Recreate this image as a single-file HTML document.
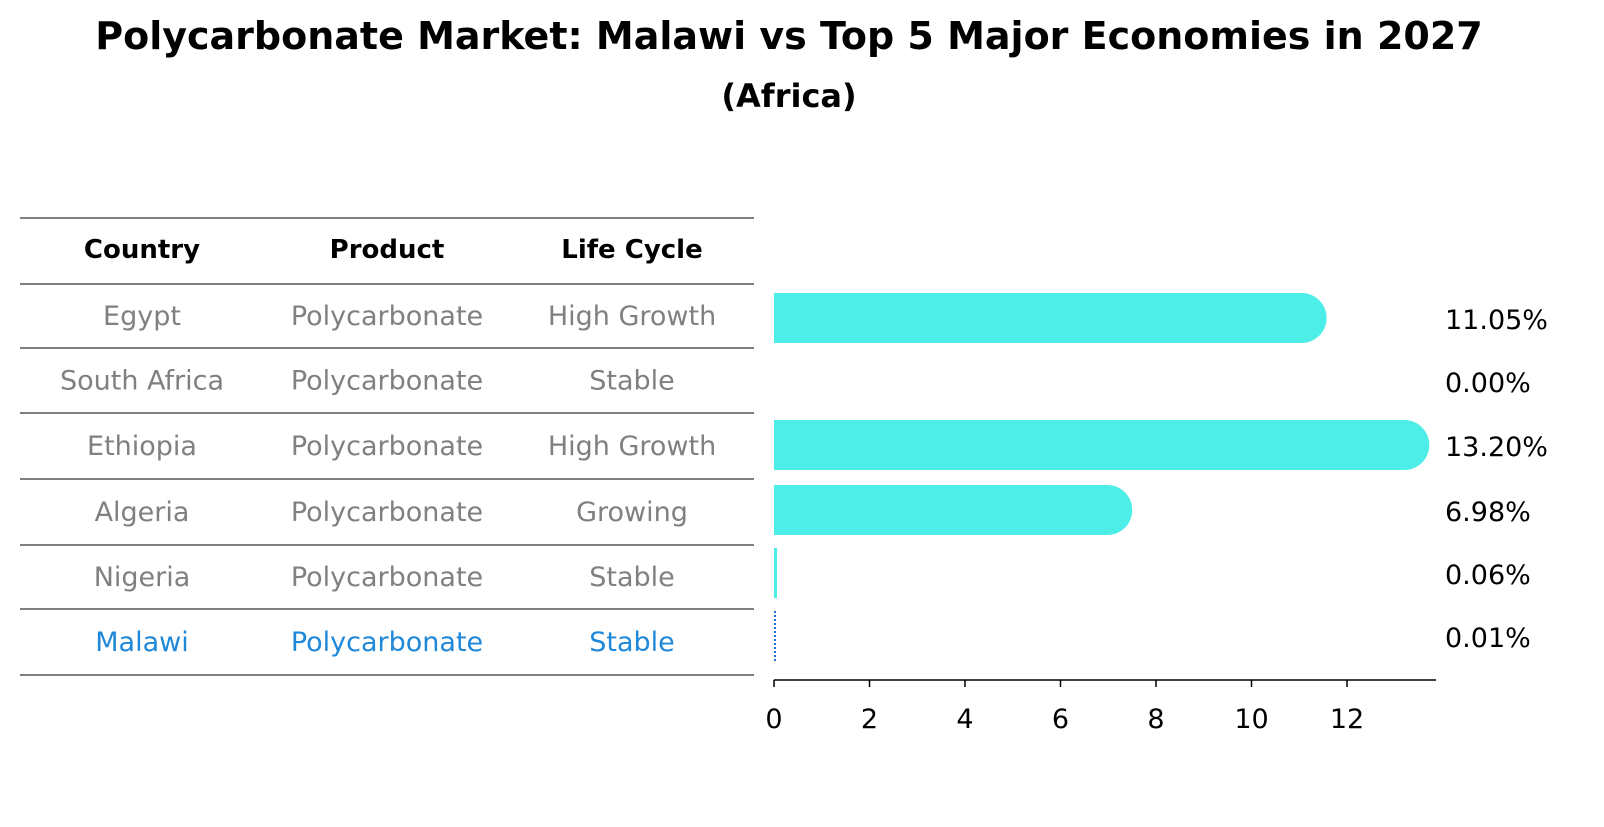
<!DOCTYPE html>
<html><head><meta charset="utf-8"><style>
body{margin:0;background:#fff;font-family:"DejaVu Sans","Liberation Sans",sans-serif}
</style></head><body>
<svg width="1604" height="823" xmlns="http://www.w3.org/2000/svg" font-family="DejaVu Sans, Liberation Sans, sans-serif">
<text x="789" y="49" text-anchor="middle" font-size="38" font-weight="bold">Polycarbonate Market: Malawi vs Top 5 Major Economies in 2027</text>
<text x="789" y="107" text-anchor="middle" font-size="32" font-weight="bold">(Africa)</text>
<g id="table"></g>
<g id="bars"></g>
</svg>
<script>
const countries=["Egypt","South Africa","Ethiopia","Algeria","Nigeria","Malawi"];
const products=["Polycarbonate","Polycarbonate","Polycarbonate","Polycarbonate","Polycarbonate","Polycarbonate"];
const lifeCycles=["High Growth","Stable","High Growth","Growing","Stable","Stable"];
const values=[11.05,0.00,13.20,6.98,0.06,0.01];
const ticks=[0,2,4,6,8,10,12];
const NS="http://www.w3.org/2000/svg";
function mk(tag,attrs,parent,txt){const e=document.createElementNS(NS,tag);for(const k in attrs)e.setAttribute(k,attrs[k]);if(txt!==undefined)e.textContent=txt;parent.appendChild(e);return e;}
const tbl=document.getElementById('table');
const lines=[218,284,348,413,479,545,609,675];
lines.forEach(y=>{const l=mk('line',{x1:20,x2:754,y1:y,y2:y,stroke:'#000','stroke-width':1},tbl);

});
const cx=[142,387,632];
["Country","Product","Life Cycle"].forEach((h,i)=>{const t=mk('text',{x:cx[i],y:258,'text-anchor':'middle','font-size':26,'font-weight':'bold'},tbl,h);

});
const rowY=i=>(lines[i+1]+lines[i+2])/2+9;
countries.forEach((c,i)=>{const col=i===countries.length-1?'#1f88d8':'#808080';
[c,products[i],lifeCycles[i]].forEach((v,j)=>{const t=mk('text',{x:cx[j],y:rowY(i),'text-anchor':'middle','font-size':27,fill:col},tbl,v);

});});
const g=document.getElementById('bars');
const x0=774,scale=47.75;const xs=v=>x0+v*scale;
const barCy=[318,381,445,510,573,636];const r=25;
values.forEach((v,i)=>{const cy=barCy[i];
if(i===values.length-1){const l=mk('line',{x1:xs(0)+1,x2:xs(0)+1,y1:cy-25,y2:cy+25,stroke:'#1f6fd0','stroke-width':2,'stroke-dasharray':'2,2'},g);

}
else if(v>0.5){const xe=xs(v)+r;
const p=mk('path',{d:`M${x0},${cy-r}H${xe-r}A${r},${r} 0 0 1 ${xe-r},${cy+r}H${x0}Z`,fill:'#4deee8'},g);

}
else if(v>0){const p=mk('rect',{x:x0,y:cy-25,width:3,height:50,fill:'#4deee8'},g);

}
const t=mk('text',{x:1445,y:cy+11,'font-size':27},g,v.toFixed(2)+'%');

});
const ax=mk('line',{x1:774,x2:1436,y1:680,y2:680,stroke:'#000','stroke-width':1.5},g);


ticks.forEach(tv=>{const tl=mk('line',{x1:xs(tv),x2:xs(tv),y1:680,y2:687,stroke:'#000','stroke-width':1.5},g);


const t=mk('text',{x:xs(tv),y:728,'text-anchor':'middle','font-size':27},g,String(tv));

});
</script>
</body></html>
